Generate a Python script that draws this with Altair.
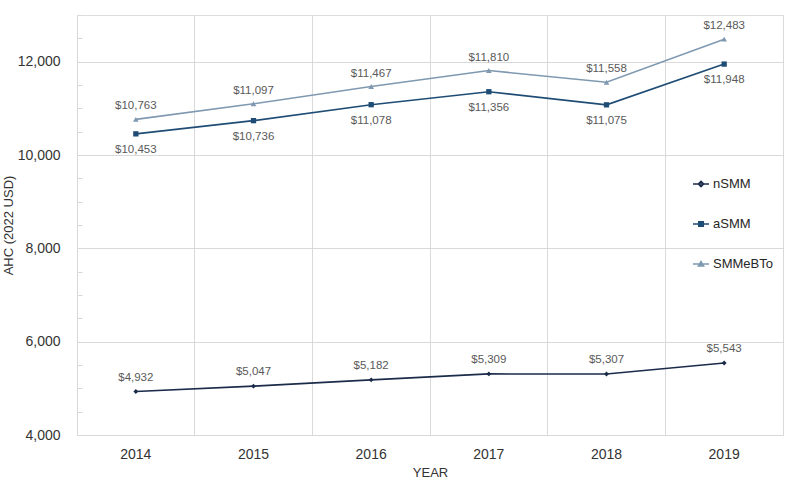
import altair as alt
import pandas as pd

years = ["2014", "2015", "2016", "2017", "2018", "2019"]
nsmm = [4932, 5047, 5182, 5309, 5307, 5543]
asmm = [10453, 10736, 11078, 11356, 11075, 11948]
smmebto = [10763, 11097, 11467, 11810, 11558, 12483]
series = ["nSMM", "aSMM", "SMMeBTo"]
colors = ["#1b2b4a", "#1f4c74", "#7f99b1"]
shapes = ["diamond", "square", "triangle-up"]
legend_shapes = [
    "M-1,0H1M0,-0.32L0.32,0L0,0.32L-0.32,0Z",
    "M-1,0H1M-0.28,-0.28H0.28V0.28H-0.28Z",
    "M-1,0H1M0,-0.3L0.32,0.24H-0.32Z",
]
label_offset = {"nSMM": -9, "aSMM": 10, "SMMeBTo": -8}
y_ticks = [4000, 6000, 8000, 10000, 12000]
minor_ticks = list(range(4000, 13001, 500))

rows = []
for name, vals in zip(series, [nsmm, asmm, smmebto]):
    for yr, v in zip(years, vals):
        rows.append({"year": yr, "value": v, "series": name})
df = pd.DataFrame(rows)

FONT = "Liberation Sans"
GRID = "#d9d9d9"

x_scale = alt.Scale(type="band", domain=years, paddingInner=0, paddingOuter=0)
y_scale = alt.Scale(domain=[4000, 13000], nice=False, zero=False)
color_scale = alt.Scale(domain=series, range=colors)


def make_legend(i):
    return alt.Legend(title=None, orient="none", legendX=615,
                      legendY=160 + 40 * i, symbolType=legend_shapes[i],
                      symbolSize=256, symbolStrokeWidth=1.6,
                      symbolFillColor=colors[i], symbolStrokeColor=colors[i],
                      labelFontSize=13, labelColor="#262626", labelFont=FONT,
                      labelOffset=3, padding=0)


base = alt.Chart(df)

lines = base.mark_line(strokeWidth=1.6).encode(
    x=alt.X("year:N", scale=x_scale,
            axis=alt.Axis(title="YEAR", labelAngle=0, domain=False, ticks=False,
                          grid=False, labelPadding=12, labelFontSize=14,
                          labelColor="#333333", titleFontSize=13,
                          titleFontWeight="normal", titleColor="#333333",
                          titlePadding=5, labelFont=FONT, titleFont=FONT)),
    y=alt.Y("value:Q", scale=y_scale,
            axis=alt.Axis(title="AHC (2022 USD)", orient="left", values=y_ticks,
                          labelExpr="format(datum.value, ',')",
                          domain=True, domainColor=GRID, ticks=False,
                          grid=True, gridColor=GRID, labelPadding=17,
                          labelFontSize=14, labelColor="#333333",
                          titleFontSize=13, titleFontWeight="normal",
                          titleColor="#333333", titlePadding=2,
                          labelFont=FONT, titleFont=FONT)),
    color=alt.Color("series:N", scale=color_scale, legend=None),
    detail="series:N",
)

points = base.mark_point(filled=True, opacity=1).encode(
    x=alt.X("year:N", scale=x_scale,
            axis=alt.Axis(title=None, orient="bottom", bandPosition=0,
                          labels=False, ticks=False, domain=False, grid=True,
                          gridColor=GRID)),
    y=alt.Y("value:Q", scale=y_scale,
            axis=alt.Axis(title=None, orient="left", values=minor_ticks,
                          labels=False, domain=False, grid=False, ticks=True,
                          tickSize=5, tickColor=GRID, offset=-5)),
    color=alt.Color("series:N", scale=color_scale, legend=None),
    shape=alt.Shape("series:N", scale=alt.Scale(domain=series, range=shapes),
                    legend=None),
    size=alt.Size("series:N", scale=alt.Scale(domain=series, range=[24, 32, 36]),
                  legend=None),
)

empty = base.transform_filter("datum.value < 0")

leg1 = empty.mark_point(filled=False, stroke=colors[0],
                        strokeWidth=1.6, opacity=1).encode(
    x=alt.X("year:N", scale=x_scale, axis=None),
    y=alt.Y("value:Q", scale=y_scale,
            axis=alt.Axis(title=None, orient="right", labels=False, ticks=False,
                          grid=False, domain=True, domainColor=GRID)),
    color=alt.Color("series:N",
                    scale=alt.Scale(domain=[series[0]], range=[colors[0]]),
                    legend=make_legend(0)),
)

leg2 = empty.mark_point(filled=True, fill=colors[1], stroke=colors[1],
                        strokeWidth=1.6, opacity=1).encode(
    x=alt.X("year:N", scale=x_scale, axis=None),
    y=alt.Y("value:Q", scale=y_scale, axis=None),
    fill=alt.Fill("series:N", scale=alt.Scale(domain=[series[1]], range=[colors[1]]),
                  legend=make_legend(1)),
)

leg3 = empty.mark_point(filled=True, fill=colors[2], stroke=colors[2],
                        strokeWidth=1.6, opacity=1).encode(
    x=alt.X("year:N", scale=x_scale, axis=None),
    y=alt.Y("value:Q", scale=y_scale, axis=None),
    stroke=alt.Stroke("series:N",
                      scale=alt.Scale(domain=[series[2]], range=[colors[2]]),
                      legend=make_legend(2)),
)


def label_layer(name, baseline):
    return base.transform_filter(alt.datum.series == name).transform_calculate(
        label="'$' + format(datum.value, ',')"
    ).mark_text(fontSize=11.5, color="#595959", font=FONT, baseline=baseline,
                dy=label_offset[name]).encode(
        x=alt.X("year:N", scale=x_scale, axis=None),
        y=alt.Y("value:Q", scale=y_scale, axis=None),
        text="label:N",
    )


labels = [
    label_layer("nSMM", "bottom"),
    label_layer("aSMM", "top"),
    label_layer("SMMeBTo", "bottom"),
]

chart = alt.layer(lines, points, leg1, leg2, leg3, *labels).resolve_axis(
    x="independent", y="independent"
).resolve_scale(
    color="independent", shape="independent", size="independent",
    fill="independent", stroke="independent"
).resolve_legend(
    color="independent", fill="independent", stroke="independent"
).properties(
    width=706, height=420,
    autosize=alt.AutoSizeParams(type="none"),
    padding={"left": 77, "top": 15, "right": 17, "bottom": 56},
).configure_view(stroke=None).configure(background="white")

chart.save("out.html", embed_options={"renderer": "svg", "actions": False})
